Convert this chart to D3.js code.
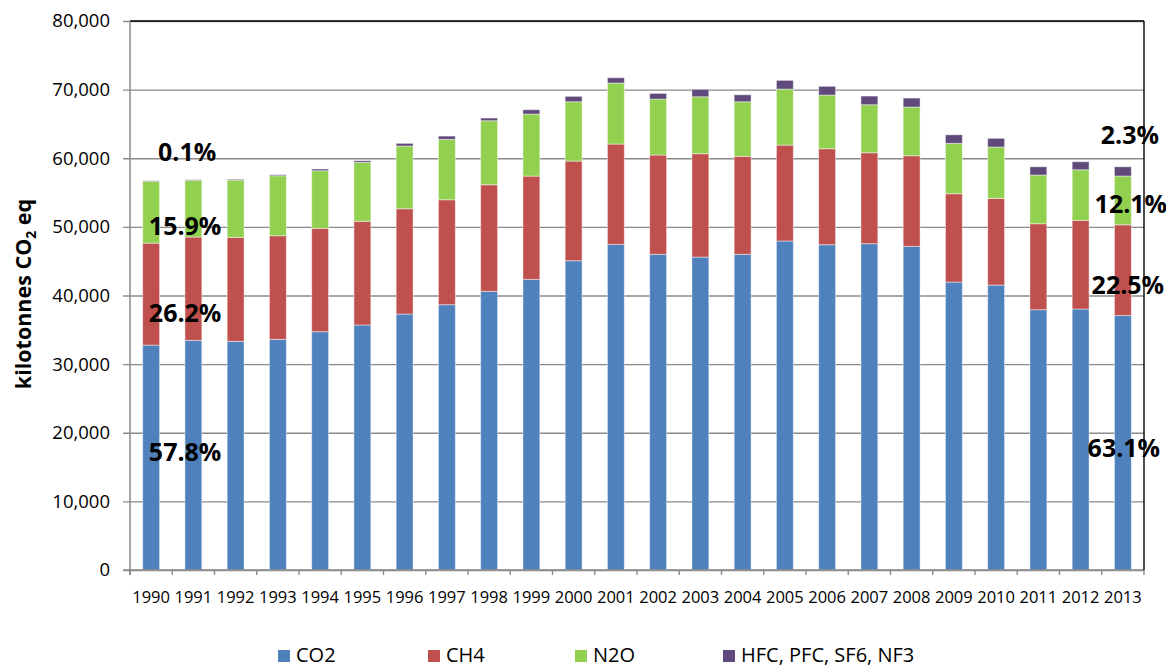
<!DOCTYPE html>
<html>
<head>
<meta charset="utf-8">
<script src="https://cdn.jsdelivr.net/npm/d3@7"></script>
<style>
  html, body { margin: 0; padding: 0; background: #fff; }
  svg { display: block; font-family: "Open Sans", "Noto Sans", sans-serif; }
</style>
</head>
<body>
<svg id="chart" width="1166" height="668"></svg>
<script>
// Greenhouse gas emissions by gas, kilotonnes CO2 equivalent
const years = ["1990","1991","1992","1993","1994","1995","1996","1997","1998","1999","2000","2001",
               "2002","2003","2004","2005","2006","2007","2008","2009","2010","2011","2012","2013"];
const co2 = [32770,33460,33320,33610,34720,35700,37300,38660,40610,42350,45070,47450,
             46000,45600,46000,47940,47400,47550,47160,41960,41520,37930,38030,37080];
const ch4 = [14860,15060,15150,15100,15070,15110,15340,15290,15530,15050,14520,14620,
             14470,15060,14280,13980,13990,13250,13210,12870,12630,12530,12920,13220];
const n2o = [9020,8260,8350,8740,8390,8590,9140,8800,9330,9040,8640,8890,
             8150,8300,7950,8160,7820,7000,7090,7340,7480,7090,7370,7110];
const fgas = [60,90,110,150,250,240,390,480,390,630,790,770,
              830,1080,1020,1270,1270,1260,1310,1250,1270,1210,1170,1350];
const seriesNames = ["CO2","CH4","N2O","HFC, PFC, SF6, NF3"];
const seriesColors = ["#4F81BD","#C0504D","#92D050","#604A7B"];
const yTicks = [0,10000,20000,30000,40000,50000,60000,70000,80000];

const rows = years.map((yr, i) => ({year: yr, s0: co2[i], s1: ch4[i], s2: n2o[i], s3: fgas[i]}));
const keys = ["s0","s1","s2","s3"];

const svg = d3.select("#chart");
const plotL = 130, plotR = 1144, plotT = 21, plotB = 570;

const x = d3.scaleBand().domain(years).range([plotL, plotR]).paddingInner(0.6).paddingOuter(0.3);
const y = d3.scaleLinear().domain([0, 80000]).range([plotB, plotT]);

// horizontal gridlines with outside tick stubs
svg.append("g")
  .attr("transform", `translate(${plotL},0)`)
  .call(d3.axisLeft(y).tickValues(yTicks).tickSize(-(plotR - plotL)).tickFormat(""))
  .call(g => g.select(".domain").remove())
  .call(g => g.selectAll(".tick line")
      .attr("x1", -7).attr("stroke", "#8a8a8a").attr("stroke-width", 1.4));

// top frame line over the 80,000 gridline
svg.append("line")
  .attr("x1", plotL).attr("x2", plotR).attr("y1", plotT).attr("y2", plotT)
  .attr("stroke", "#000").attr("stroke-width", 1.4);

// y tick labels
svg.append("g").selectAll("text")
  .data(yTicks).join("text")
  .attr("x", 110).attr("y", d => y(d))
  .attr("dy", "0.35em")
  .attr("text-anchor", "end")
  .attr("font-size", 18.5)
  .attr("fill", "#000")
  .text(d => d3.format(",")(d));

// stacked bars
const stacked = d3.stack().keys(keys)(rows);
svg.append("g").selectAll("g")
  .data(stacked).join("g")
  .attr("fill", (d, i) => seriesColors[i])
  .selectAll("rect")
  .data(d => d).join("rect")
  .attr("x", d => x(d.data.year))
  .attr("width", x.bandwidth())
  .attr("y", d => y(d[1]))
  .attr("height", d => y(d[0]) - y(d[1]))
  .attr("stroke", "rgba(255,255,255,0.45)")
  .attr("stroke-width", 1);

// axis lines and right frame
svg.append("line")
  .attr("x1", plotL).attr("x2", plotL).attr("y1", plotT).attr("y2", plotB + 5)
  .attr("stroke", "#8a8a8a").attr("stroke-width", 1.5);
svg.append("line")
  .attr("x1", plotL - 7).attr("x2", plotR).attr("y1", plotB).attr("y2", plotB)
  .attr("stroke", "#8a8a8a").attr("stroke-width", 1.5);
svg.append("line")
  .attr("x1", plotR).attr("x2", plotR).attr("y1", plotT).attr("y2", plotB)
  .attr("stroke", "#000").attr("stroke-width", 1.4);

// category boundary ticks
const step = x.step();
svg.append("g").selectAll("line")
  .data(d3.range(years.length + 1)).join("line")
  .attr("x1", i => plotL + i * step).attr("x2", i => plotL + i * step)
  .attr("y1", plotB).attr("y2", plotB + 5)
  .attr("stroke", "#8a8a8a").attr("stroke-width", 1.4);

// x labels
svg.append("g").selectAll("text")
  .data(years).join("text")
  .attr("x", d => x(d) + x.bandwidth() / 2)
  .attr("y", 603)
  .attr("text-anchor", "middle")
  .attr("font-size", 16.5)
  .attr("fill", "#000")
  .text(d => d);

// share annotations for first and last year
const pct = d3.format(".1%");
function shares(i) {
  const total = co2[i] + ch4[i] + n2o[i] + fgas[i];
  return [co2[i], ch4[i], n2o[i], fgas[i]].map(v => pct(v / total));
}
const first = shares(0), last = shares(years.length - 1);
const cxFirst = x(years[0]) + x.bandwidth() / 2 + 34;
const cxLast = x(years[years.length - 1]) + x.bandwidth() / 2 + 3;
const notes = [
  {t: first[3], cx: cxFirst + 2, v: 60960},
  {t: first[2], cx: cxFirst, v: 50130},
  {t: first[1], cx: cxFirst, v: 37450},
  {t: first[0], cx: cxFirst, v: 17240},
  {t: last[3], cx: cxLast + 4, v: 63390},
  {t: last[2], cx: cxLast + 5, v: 53330},
  {t: last[1], cx: cxLast + 2, v: 41530},
  {t: last[0], cx: cxLast - 2, v: 17820}
];
svg.append("g").selectAll("text")
  .data(notes).join("text")
  .attr("x", d => d.cx).attr("y", d => y(d.v))
  .attr("dy", "0.36em")
  .attr("text-anchor", "middle")
  .attr("font-size", 25).attr("font-weight", 700)
  .attr("fill", "#000")
  .text(d => d.t);

// y axis title
const title = svg.append("text")
  .attr("transform", "translate(31,294) rotate(-90)")
  .attr("text-anchor", "middle")
  .attr("font-size", 21.5).attr("font-weight", 700)
  .attr("fill", "#000");
title.append("tspan").text("kilotonnes CO");
title.append("tspan").attr("dy", 5).attr("font-size", 14).text("2");
title.append("tspan").attr("dy", -5).text(" eq");

// legend
const legendX = [278, 428, 575, 723];
const lg = svg.append("g").selectAll("g")
  .data(seriesNames).join("g")
  .attr("transform", (d, i) => `translate(${legendX[i]},655)`);
lg.append("rect")
  .attr("x", 0).attr("y", -5).attr("width", 12).attr("height", 12)
  .attr("fill", (d, i) => seriesColors[i]);
lg.append("text")
  .attr("x", 18).attr("dy", "0.35em")
  .attr("font-size", 20).attr("fill", "#000")
  .text(d => d);
</script>
</body>
</html>
